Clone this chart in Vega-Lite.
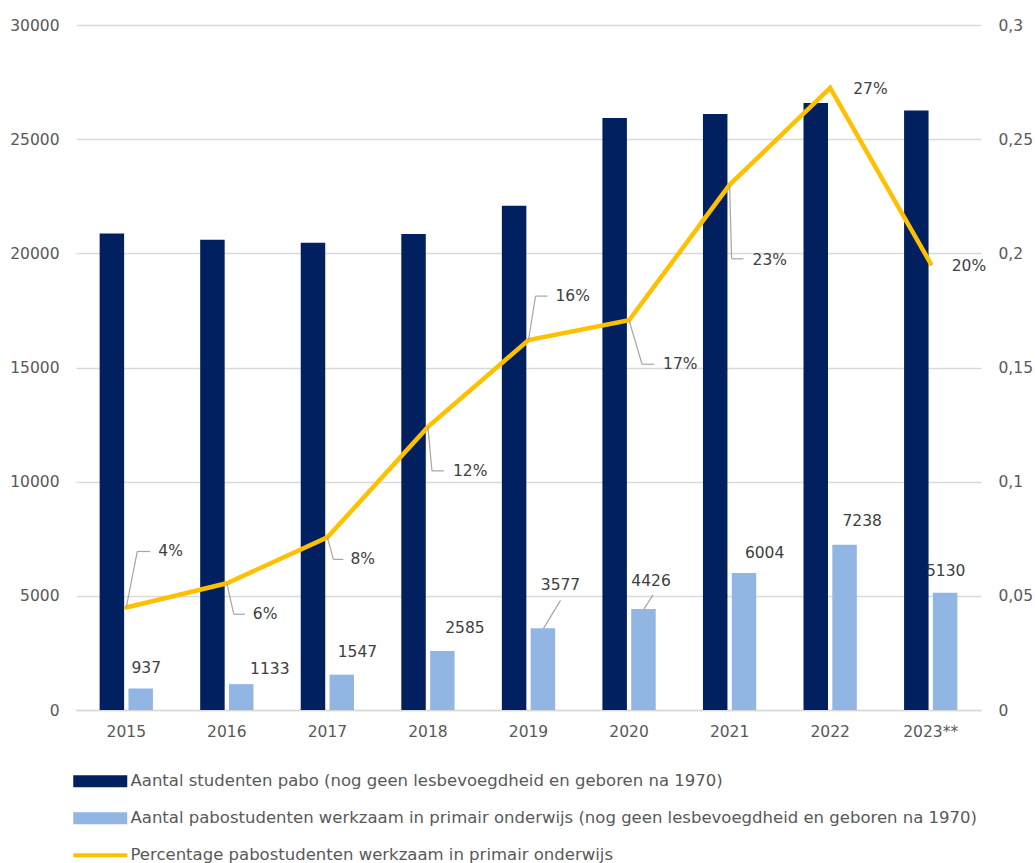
{
  "$schema": "https://vega.github.io/schema/vega-lite/v6.json",
  "autosize": {"type": "none"},
  "width": 905,
  "height": 685,
  "padding": {"left": 76, "top": 25, "right": 54, "bottom": 153},
  "background": "white",
  "config": {
    "view": {"stroke": null},
    "font": "DejaVu Sans",
    "axis": {"labelFont": "DejaVu Sans", "labelFontSize": 15.5, "labelColor": "#595959", "ticks": false, "title": null},
    "legend": {"labelFont": "DejaVu Sans"}
  },
  "datasets": {
    "bars": [
      {"year": "2015", "series": "Aantal studenten pabo (nog geen lesbevoegdheid en geboren na 1970)", "value": 20870},
      {"year": "2016", "series": "Aantal studenten pabo (nog geen lesbevoegdheid en geboren na 1970)", "value": 20600},
      {"year": "2017", "series": "Aantal studenten pabo (nog geen lesbevoegdheid en geboren na 1970)", "value": 20460},
      {"year": "2018", "series": "Aantal studenten pabo (nog geen lesbevoegdheid en geboren na 1970)", "value": 20850},
      {"year": "2019", "series": "Aantal studenten pabo (nog geen lesbevoegdheid en geboren na 1970)", "value": 22080},
      {"year": "2020", "series": "Aantal studenten pabo (nog geen lesbevoegdheid en geboren na 1970)", "value": 25930},
      {"year": "2021", "series": "Aantal studenten pabo (nog geen lesbevoegdheid en geboren na 1970)", "value": 26100},
      {"year": "2022", "series": "Aantal studenten pabo (nog geen lesbevoegdheid en geboren na 1970)", "value": 26580},
      {"year": "2023**", "series": "Aantal studenten pabo (nog geen lesbevoegdheid en geboren na 1970)", "value": 26260},
      {"year": "2015", "series": "Aantal pabostudenten werkzaam in primair onderwijs (nog geen lesbevoegdheid en geboren na 1970)", "value": 937},
      {"year": "2016", "series": "Aantal pabostudenten werkzaam in primair onderwijs (nog geen lesbevoegdheid en geboren na 1970)", "value": 1133},
      {"year": "2017", "series": "Aantal pabostudenten werkzaam in primair onderwijs (nog geen lesbevoegdheid en geboren na 1970)", "value": 1547},
      {"year": "2018", "series": "Aantal pabostudenten werkzaam in primair onderwijs (nog geen lesbevoegdheid en geboren na 1970)", "value": 2585},
      {"year": "2019", "series": "Aantal pabostudenten werkzaam in primair onderwijs (nog geen lesbevoegdheid en geboren na 1970)", "value": 3577},
      {"year": "2020", "series": "Aantal pabostudenten werkzaam in primair onderwijs (nog geen lesbevoegdheid en geboren na 1970)", "value": 4426},
      {"year": "2021", "series": "Aantal pabostudenten werkzaam in primair onderwijs (nog geen lesbevoegdheid en geboren na 1970)", "value": 6004},
      {"year": "2022", "series": "Aantal pabostudenten werkzaam in primair onderwijs (nog geen lesbevoegdheid en geboren na 1970)", "value": 7238},
      {"year": "2023**", "series": "Aantal pabostudenten werkzaam in primair onderwijs (nog geen lesbevoegdheid en geboren na 1970)", "value": 5130}
    ],
    "pct": [
      {"year": "2015", "pct": 0.0449},
      {"year": "2016", "pct": 0.0555},
      {"year": "2017", "pct": 0.0756},
      {"year": "2018", "pct": 0.124},
      {"year": "2019", "pct": 0.162},
      {"year": "2020", "pct": 0.1707},
      {"year": "2021", "pct": 0.23},
      {"year": "2022", "pct": 0.2725},
      {"year": "2023**", "pct": 0.1955}
    ]
  },
  "encoding": {
    "x": {
      "field": "year", "type": "ordinal", "sort": null,
      "scale": {"type": "band", "paddingInner": 0.47, "paddingOuter": 0.235},
      "axis": {"labelAngle": 0, "labelPadding": 14, "domain": true, "domainColor": "#D9D9D9", "domainWidth": 1.5, "grid": false}
    }
  },
  "layer": [
    {
      "data": {"name": "bars"},
      "layer": [
        {
          "mark": {"type": "bar"},
          "encoding": {
            "xOffset": {"field": "series", "type": "nominal", "scale": {"domain": ["Aantal studenten pabo (nog geen lesbevoegdheid en geboren na 1970)", "Aantal pabostudenten werkzaam in primair onderwijs (nog geen lesbevoegdheid en geboren na 1970)"], "paddingInner": 0.15}},
            "y": {
              "field": "value", "type": "quantitative",
              "scale": {"domain": [0, 30000], "nice": false},
              "axis": {"orient": "left", "values": [0, 5000, 10000, 15000, 20000, 25000, 30000], "format": "d", "domain": false, "grid": true, "gridColor": "#D9D9D9", "gridWidth": 1.5, "labelPadding": 17}
            },
            "color": {
              "field": "series", "type": "nominal",
              "scale": {
                "domain": ["Aantal studenten pabo (nog geen lesbevoegdheid en geboren na 1970)", "Aantal pabostudenten werkzaam in primair onderwijs (nog geen lesbevoegdheid en geboren na 1970)", "Percentage pabostudenten werkzaam in primair onderwijs"],
                "range": ["#002060", "#92B6E4", "#FFC000"]
              },
              "legend": {
                "orient": "none", "legendX": 16, "legendY": 748, "direction": "vertical", "title": null,
                "symbolType": "M-4.5,-1H4.5V1H-4.5Z", "symbolSize": 144, "symbolStrokeWidth": 0,
                "labelFontSize": 16.5, "labelColor": "#595959", "labelOffset": 22, "rowPadding": 20, "padding": 0,
                "labelLimit": 1000,
                "encode": {"symbols": {"update": {"shape": {"signal": "datum.value === 'Percentage pabostudenten werkzaam in primair onderwijs' ? 'M-4.5,-0.33H4.5V0.33H-4.5Z' : 'M-4.5,-1H4.5V1H-4.5Z'"}}}}
              }
            }
          }
        },
        {
          "transform": [{"filter": "datum.series !== 'Aantal studenten pabo (nog geen lesbevoegdheid en geboren na 1970)'"}],
          "mark": {
            "type": "text", "align": "center", "baseline": "middle", "fontSize": 15.5, "color": "#404040",
            "dx": {"expr": "{'2015':20,'2016':43,'2017':30,'2018':37,'2019':32,'2020':22,'2021':35,'2022':32,'2023**':15}[datum.year]"},
            "dy": {"expr": "{'2015':-21,'2016':-15,'2017':-23,'2018':-23,'2019':-43,'2020':-28,'2021':-20,'2022':-24,'2023**':-22}[datum.year]"}
          },
          "encoding": {
            "y": {"field": "value", "type": "quantitative"},
            "text": {"field": "value", "type": "quantitative", "format": "d"}
          }
        },
        {
          "transform": [{"filter": "datum.series !== 'Aantal studenten pabo (nog geen lesbevoegdheid en geboren na 1970)' && (datum.year === '2019' || datum.year === '2020')"}],
          "mark": {
            "type": "rule", "color": "#A6A6A6", "strokeWidth": 1.2,
            "xOffset": 15,
            "x2Offset": {"expr": "datum.year === '2019' ? 32 : 24"},
            "y2Offset": {"expr": "datum.year === '2019' ? -28 : -14"}
          },
          "encoding": {
            "x": {"field": "year", "type": "ordinal", "sort": null, "bandPosition": 0.5},
            "x2": {"field": "year", "bandPosition": 0.5},
            "y": {"field": "value", "type": "quantitative"},
            "y2": {"field": "value"}
          }
        }
      ]
    },
    {
      "data": {"name": "pct"},
      "layer": [
        {
          "mark": {"type": "line", "color": "#FFC000", "strokeWidth": 4.5, "strokeCap": "round"},
          "encoding": {
            "y": {
              "field": "pct", "type": "quantitative",
              "scale": {"domain": [0, 0.3], "nice": false},
              "axis": {"orient": "right", "values": [0, 0.05, 0.1, 0.15, 0.2, 0.25, 0.3], "labelExpr": "replace(format(datum.value, '~g'), '.', ',')", "domain": false, "grid": false, "labelPadding": 17}
            }
          }
        },
        {
          "transform": [{"filter": "datum.year !== '2022' && datum.year !== '2023**'"}],
          "mark": {
            "type": "rule", "color": "#A6A6A6", "strokeWidth": 1.2,
            "x2Offset": {"expr": "{'2015':11,'2016':7,'2017':6,'2018':4,'2019':7,'2020':13,'2021':2}[datum.year]"},
            "y2Offset": {"expr": "{'2015':-56,'2016':31,'2017':22,'2018':44,'2019':-44,'2020':44,'2021':74}[datum.year]"}
          },
          "encoding": {
            "x": {"field": "year", "type": "ordinal", "sort": null, "bandPosition": 0.5},
            "x2": {"field": "year", "bandPosition": 0.5},
            "y": {"field": "pct", "type": "quantitative"},
            "y2": {"field": "pct"}
          }
        },
        {
          "transform": [{"filter": "datum.year !== '2022' && datum.year !== '2023**'"}],
          "mark": {
            "type": "rule", "color": "#A6A6A6", "strokeWidth": 1.2,
            "xOffset": {"expr": "{'2015':11,'2016':7,'2017':6,'2018':4,'2019':7,'2020':13,'2021':2}[datum.year]"},
            "yOffset": {"expr": "{'2015':-56,'2016':31,'2017':22,'2018':44,'2019':-44,'2020':44,'2021':74}[datum.year]"},
            "x2Offset": {"expr": "{'2015':24,'2016':18,'2017':16,'2018':16,'2019':19,'2020':25,'2021':14}[datum.year]"},
            "y2Offset": {"expr": "{'2015':-56,'2016':31,'2017':22,'2018':44,'2019':-44,'2020':44,'2021':74}[datum.year]"}
          },
          "encoding": {
            "x": {"field": "year", "type": "ordinal", "sort": null, "bandPosition": 0.5},
            "x2": {"field": "year", "bandPosition": 0.5},
            "y": {"field": "pct", "type": "quantitative"},
            "y2": {"field": "pct"}
          }
        },
        {
          "mark": {
            "type": "text", "align": "left", "baseline": "middle", "fontSize": 15.5, "color": "#404040",
            "dx": {"expr": "{'2015':32,'2016':26,'2017':23,'2018':25,'2019':27,'2020':34,'2021':23,'2022':23,'2023**':21}[datum.year]"},
            "dy": {"expr": "{'2015':-56,'2016':31,'2017':22,'2018':44,'2019':-44,'2020':44,'2021':75,'2022':1,'2023**':2}[datum.year]"}
          },
          "encoding": {
            "y": {"field": "pct", "type": "quantitative"},
            "text": {"field": "pct", "type": "quantitative", "format": ".0%"}
          }
        }
      ]
    }
  ],
  "resolve": {"scale": {"y": "independent"}}
}
